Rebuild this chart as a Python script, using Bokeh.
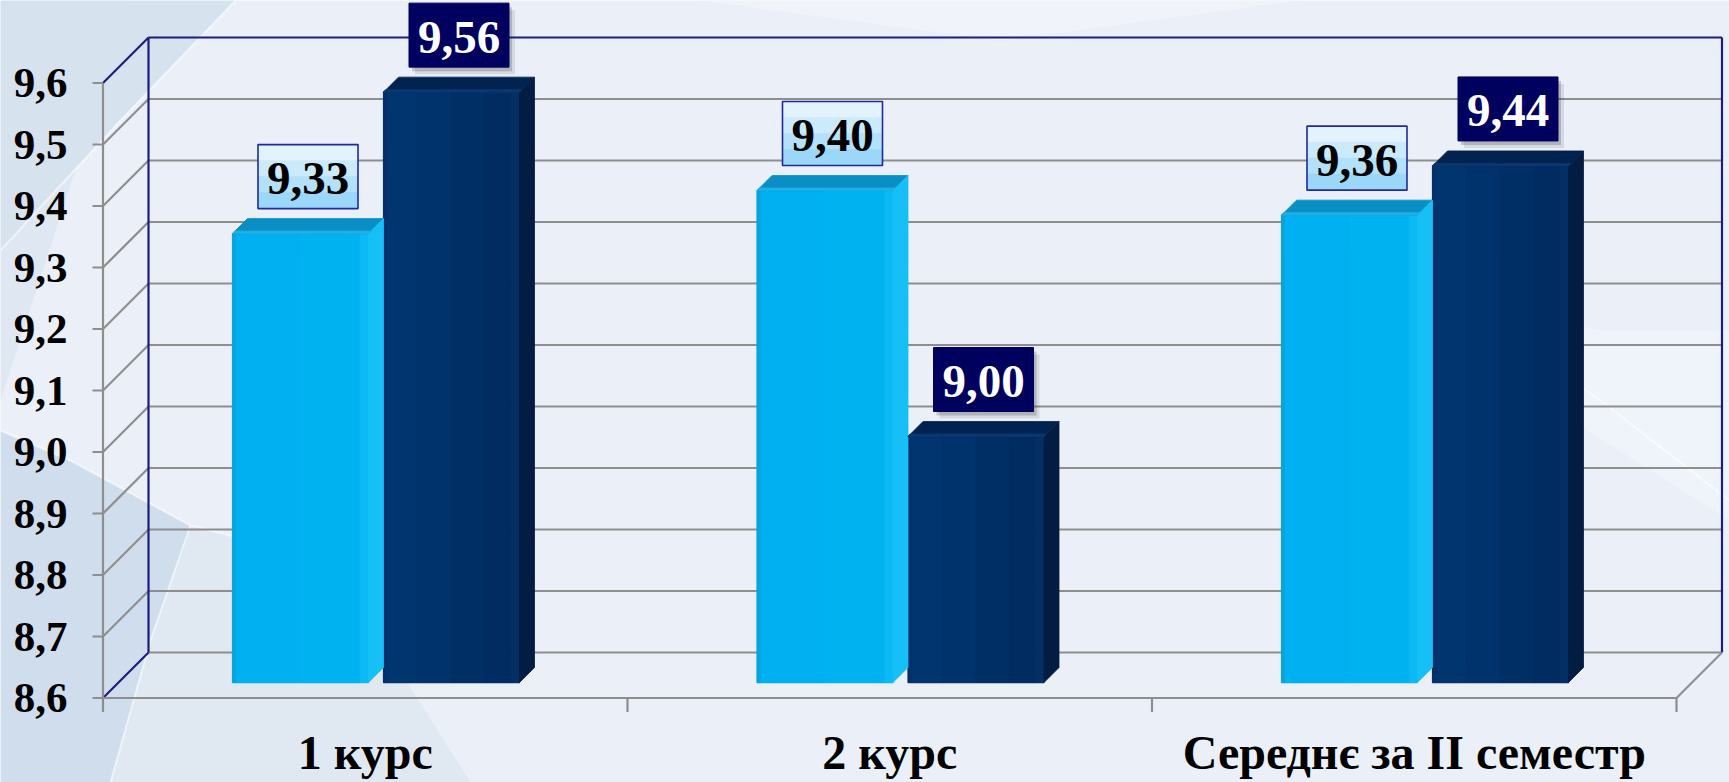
import numpy as np
from bokeh.plotting import figure
from bokeh.models import Range1d, ColumnDataSource
from bokeh.core.properties import value
from bokeh.embed import file_html
from bokeh.resources import INLINE

# ---------------- data ----------------
categories = ["1 курс", "2 курс", "Середнє за II семестр"]
series_light = [9.33, 9.40, 9.36]
series_dark = [9.56, 9.00, 9.44]
tick_values = [8.6, 8.7, 8.8, 8.9, 9.0, 9.1, 9.2, 9.3, 9.4, 9.5, 9.6]
tick_labels = ["8,6", "8,7", "8,8", "8,9", "9,0", "9,1", "9,2", "9,3", "9,4", "9,5", "9,6"]
y_min, y_max = 8.6, 9.6

# ---------------- layout (pixel geometry of the page) ----------------
W, H = 1729, 782
OFF = 0
X0, CATW = 102.5, 524.5      # front axis x, width of one category
Y0, UNIT = 697.5, 615.0      # front floor y, pixels per value unit


def dx(px):
    return px / CATW


def dy(px):
    return px / UNIT


def X(px):
    return (px - X0) / CATW


def Y(py):
    return y_min + (Y0 - py) / UNIT


DX, DY = dx(45.5), dy(45.5)          # full depth of the 3-D box
BAR_D0 = 0.34                          # bar front depth fraction
CAP_X, CAP_Y = dx(15), dy(15)          # bar depth
BAR_W = dx(136)
BAR_PITCH = dx(151)
BAR_OFF = dx(129.5)

BG = "#ebf0f8"
GRID = "#8e8e8e"
NAVY = "#1c1c7e"
FONT = value("Liberation Serif")

p = figure(width=W, height=H,
           x_range=Range1d(X(OFF), X(OFF + W)),
           y_range=Range1d(Y(OFF + H), Y(OFF)),
           output_backend="svg", toolbar_location=None,
           x_axis_type=None, y_axis_type=None, min_border=0)
p.grid.visible = False
p.outline_line_color = None
p.background_fill_color = BG
p.border_fill_color = BG

# ---------------- background swooshes ----------------
bg_shapes = [
    ([0, 130, 0], [0, 0, 400], "#dee7f2", 1.0),
    ([0, 235, 120, 0], [0, 0, 120, 250], "#d7e2ef", 1.0),
    ([0, 70, 190, 150, 110, 0], [430, 460, 525, 640, 782, 782], "#d0ddec", 1.0),
    ([110, 150, 190, 330, 470, 300], [782, 640, 525, 560, 782, 782], "#e0e8f2", 1.0),
    ([700, 1000, 1300, 1000], [0, 0, 0, 40], "#f3f6fb", 0.6),
    ([1480, 1600, 1729, 1729, 1650, 1540], [300, 330, 330, 520, 470, 400], "#f4f7fb", 0.5),
]
p.patches([[X(v) for v in s[0]] for s in bg_shapes],
          [[Y(v) for v in s[1]] for s in bg_shapes],
          fill_color=[s[2] for s in bg_shapes], fill_alpha=[s[3] for s in bg_shapes],
          line_color=None)
sw_x = [[X(v) for v in [0, 70, 190]], [X(v) for v in [110, 150, 190, 330]],
        [X(v) for v in [0, 120, 235]], [X(v) for v in [1500, 1600, 1729]]]
sw_y = [[Y(v) for v in [430, 460, 525]], [Y(v) for v in [782, 640, 525, 560]],
        [Y(v) for v in [250, 120, 0]], [Y(v) for v in [330, 400, 500]]]
p.multi_line(sw_x, sw_y, line_color="white", line_width=2, line_alpha=0.55)

# ---------------- 3-D box: walls, grid, axes ----------------
gx, gy, gc = [], [], []
for v in tick_values:
    col = NAVY if v == y_max else GRID
    gx.append([DX, 3 + DX]); gy.append([v + DY, v + DY]); gc.append(col)
    dcol = NAVY if v in (y_min, y_max) else GRID
    gx.append([0, DX]); gy.append([v, v + DY]); gc.append(dcol)
    gx.append([dx(-10.5), 0]); gy.append([v, v]); gc.append(GRID)
# back wall verticals
gx.append([DX, DX]); gy.append([y_min + DY, y_max + DY]); gc.append(NAVY)
gx.append([3 + DX, 3 + DX]); gy.append([y_min + DY, y_max + DY]); gc.append(NAVY)
# front axis and floor
gx.append([0, 0]); gy.append([y_min - dy(14), y_max]); gc.append(GRID)
gx.append([0, 3]); gy.append([y_min, y_min]); gc.append(GRID)
gx.append([3, 3 + DX]); gy.append([y_min, y_min + DY]); gc.append(GRID)
for i in range(1, len(categories) + 1):
    gx.append([i, i]); gy.append([y_min, y_min - dy(14)]); gc.append(GRID)
p.multi_line(gx, gy, line_color=gc, line_width=2.2)

# ---------------- bars ----------------
styles = [
    dict(front_f=[0, 0.03, 0.5, 0.94, 1.0],
         front_c=["#0aa3dc", "#00b0f0", "#01b2f1", "#0bb9f4"],
         cap="#0a8fc5", cap_edge="#1fb0e6", side="#16bff5"),
    dict(front_f=[0, 0.03, 0.25, 0.5, 0.75, 0.94, 1.0],
         front_c=["#06306a", "#00356f", "#00326b", "#002f66", "#002c61", "#042f64"],
         cap="#02234f", cap_edge="#0a3870", side="#021c42"),
]

fq = dict(left=[], right=[], bottom=[], top=[], color=[])
px_, py_, pc_ = [], [], []
for s, vals in enumerate([series_light, series_dark]):
    st = styles[s]
    for i, v in enumerate(vals):
        L = i + BAR_OFF + s * BAR_PITCH
        R = L + BAR_W
        B = y_min + BAR_D0 * DY
        T = v + BAR_D0 * DY
        f = st["front_f"]
        for k in range(len(f) - 1):
            fq["left"].append(L + (R - L) * f[k])
            fq["right"].append(L + (R - L) * f[k + 1])
            fq["bottom"].append(B)
            fq["top"].append(T)
            fq["color"].append(st["front_c"][k])
        # top cap
        px_.append([L, R, R + CAP_X, L + CAP_X]); py_.append([T, T, T + CAP_Y, T + CAP_Y]); pc_.append(st["cap"])
        # right side
        px_.append([R, R + CAP_X, R + CAP_X, R]); py_.append([B, B + CAP_Y, T + CAP_Y, T]); pc_.append(st["side"])
        # highlight edge on cap front
        px_.append([L, R, R + dx(2), L + dx(2)]); py_.append([T, T, T + dy(2.5), T + dy(2.5)]); pc_.append(st["cap_edge"])

p.quad(left="left", right="right", bottom="bottom", top="top", fill_color="color",
       line_color="color", line_width=1.2, source=ColumnDataSource(fq))
p.patches(px_, py_, fill_color=pc_, line_color=pc_, line_width=0.8)

# ---------------- value labels ----------------
lab_x, lab_y, lab_t, lab_s = [], [], [], []
for s, vals in enumerate([series_light, series_dark]):
    for i, v in enumerate(vals):
        L = i + BAR_OFF + s * BAR_PITCH
        lab_x.append(L + BAR_W / 2 + CAP_X / 2)
        lab_y.append(v + BAR_D0 * DY + CAP_Y + dy(42))
        lab_t.append(f"{v:.2f}".replace(".", ","))
        lab_s.append(s)

BOXW, BOXH = 100, 64
light_idx = [k for k in range(len(lab_t)) if lab_s[k] == 0]
dark_idx = [k for k in range(len(lab_t)) if lab_s[k] == 1]

# shadows under dark labels
for (ox, oy, a) in [(6, 7, 0.12), (3, 4, 0.22)]:
    p.rect([lab_x[k] + dx(ox) for k in dark_idx], [lab_y[k] - dy(oy) for k in dark_idx],
           width=BOXW, height=BOXH, width_units="screen", height_units="screen",
           fill_color="#333333", fill_alpha=a, line_color=None)
p.rect([lab_x[k] for k in dark_idx], [lab_y[k] for k in dark_idx],
       width=BOXW, height=BOXH, width_units="screen", height_units="screen",
       fill_color="#00005f", line_color="#00005f", line_width=1)

# light labels: vertical gradient boxes
grad = ["#e2f3fe", "#cbeafc", "#b3e0fa", "#9ad7f8"]
nst = len(grad)
for k2, c in enumerate(grad):
    sh = BOXH / nst
    off = BOXH / 2 - sh * (k2 + 0.5)
    p.rect([lab_x[k] for k in light_idx], [lab_y[k] + dy(off) for k in light_idx],
           width=BOXW, height=sh + 0.8, width_units="screen", height_units="screen",
           fill_color=c, line_color=None)
p.rect([lab_x[k] for k in light_idx], [lab_y[k] for k in light_idx],
       width=BOXW, height=BOXH, width_units="screen", height_units="screen",
       fill_color=None, line_color="#1f2a9a", line_width=1.6)

p.text([lab_x[k] for k in light_idx], [lab_y[k] - dy(2) for k in light_idx],
       text=[lab_t[k] for k in light_idx], text_font=FONT, text_font_style="bold",
       text_font_size="47px", text_color="black", text_align="center", text_baseline="middle")
p.text([lab_x[k] for k in dark_idx], [lab_y[k] - dy(2) for k in dark_idx],
       text=[lab_t[k] for k in dark_idx], text_font=FONT, text_font_style="bold",
       text_font_size="47px", text_color="white", text_align="center", text_baseline="middle")

# ---------------- axis texts ----------------
p.text([X(67)] * len(tick_values), tick_values, text=tick_labels, text_font=FONT,
       text_font_style="bold", text_font_size="43px", text_color="black",
       text_align="right", text_baseline="middle")
p.text([i + 0.5 for i in range(len(categories))], [Y(752)] * len(categories), text=categories,
       text_font=FONT, text_font_style="bold", text_font_size="48px", text_color="black",
       text_align="center", text_baseline="middle")

open("out.html", "w").write(file_html(p, INLINE))
